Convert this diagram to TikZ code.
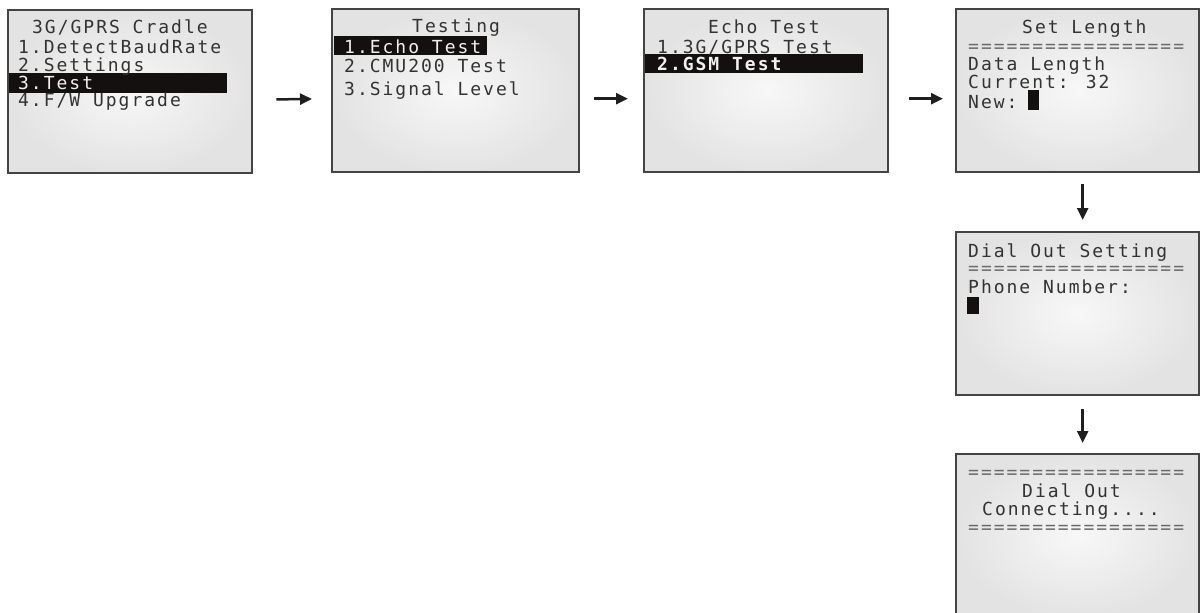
\documentclass[tikz,border=0pt]{standalone}
\usepackage{fontspec}
\newfontfamily\lcdfont[LetterSpace=11]{DejaVu Sans Mono}
\usetikzlibrary{arrows.meta}
\definecolor{lcdink}{HTML}{333333}
\definecolor{lcdrule}{HTML}{6A6A6A}
\definecolor{lcdframe}{HTML}{444444}
\definecolor{lcdbar}{HTML}{141010}

\begin{document}
\begin{tikzpicture}[x=1pt, y=-1pt,
  screen/.style={rectangle, draw=lcdframe, line width=2.4pt,
    inner color=white!97!black, outer color=black!11, inner sep=0pt,
    minimum width=244pt, minimum height=163pt, anchor=north west},
  txt/.style={anchor=base west, inner sep=0pt, text=lcdink,
    font={\lcdfont\fontsize{18}{18}\selectfont}},
  rule/.style={txt, text=lcdrule},
  sel/.style={txt, text=white!94!black},
  flow/.style={-{Triangle[length=12pt,width=11pt]}, line width=2.5pt, black!88}]
\useasboundingbox (0,0) rectangle (1200,613);
% ----- the six screens -----
\node[screen] (s1) at (7,9) {};
\node[screen, minimum width=247pt] (s2) at (331,8) {};
\node[screen] (s3) at (643,8) {};
\node[screen, minimum width=243pt] (s4) at (955,8) {};
\node[screen, minimum width=243pt] (s5) at (955,231) {};
\node[screen, minimum width=243pt] (s6) at (955,453) {};
% ----- main menu -----
\fill[lcdbar] (9,73) rectangle (227,93);
\node[txt] (m0) at (32,33) {3G/GPRS Cradle};
\node[txt] (m1) at (18,53) {1.DetectBaudRate};
\node[txt] (m2) at (18,71) {2.Settings};
\node[sel] (m3) at (18,89) {3.Test};
\node[txt] (m4) at (18,106) {4.F/W Upgrade};
% ----- testing menu -----
\fill[lcdbar] (334,36) rectangle (487,55);
\node[txt] (t0) at (412,32) {Testing};
\node[sel] (t1) at (344,53) {1.Echo Test};
\node[txt] (t2) at (344,72) {2.CMU200 Test};
\node[txt] (t3) at (344,95) {3.Signal Level};
% ----- echo test menu -----
\fill[lcdbar] (645,54) rectangle (863,73);
\node[txt] (e0) at (708,33) {Echo Test};
\node[txt] (e1) at (657,53) {1.3G/GPRS Test};
\node[sel, font={\lcdfont\bfseries\fontsize{18}{18}\selectfont}] (e2) at (657,70) {2.GSM Test};
% ----- set length -----
\node[txt] (l0) at (1022,33) {Set Length};
\node[rule] (l1) at (968,52) {=================};
\node[txt] (l2) at (968,70) {Data Length};
\node[txt] (l3) at (968,88) {Current: 32};
\node[txt] (l4) at (968,108) {New:};
\fill[lcdbar] (1028,90) rectangle (1039,110);
% ----- dial out setting -----
\node[txt] (d0) at (968,257) {Dial Out Setting};
\node[rule] (d1) at (968,274) {=================};
\node[txt] (d2) at (968,293) {Phone Number:};
\fill[lcdbar] (967,297) rectangle (979,314);
% ----- connecting -----
\node[rule] (c0) at (968,478) {=================};
\node[txt] (c1) at (1022,497) {Dial Out};
\node[txt] (c2) at (982,515) {Connecting....};
\node[rule] (c3) at (968,533) {=================};
% ----- arrows -----
\draw[flow, shorten <=23pt, shorten >=19pt] ([yshift=-8pt]s1.east) -- ([yshift=-8pt]s2.west);
\draw[flow, shorten <=14pt, shorten >=15pt] ([yshift=-8pt]s2.east) -- ([yshift=-8pt]s3.west);
\draw[flow, shorten <=20pt, shorten >=12pt] ([yshift=-8pt]s3.east) -- ([yshift=-8pt]s4.west);
\draw[flow, shorten <=11pt, shorten >=11pt] ([xshift=5pt]s4.south) -- ([xshift=5pt]s5.north);
\draw[flow, shorten <=13pt, shorten >=10pt] ([xshift=5pt]s5.south) -- ([xshift=5pt]s6.north);
\end{tikzpicture}
\end{document}
